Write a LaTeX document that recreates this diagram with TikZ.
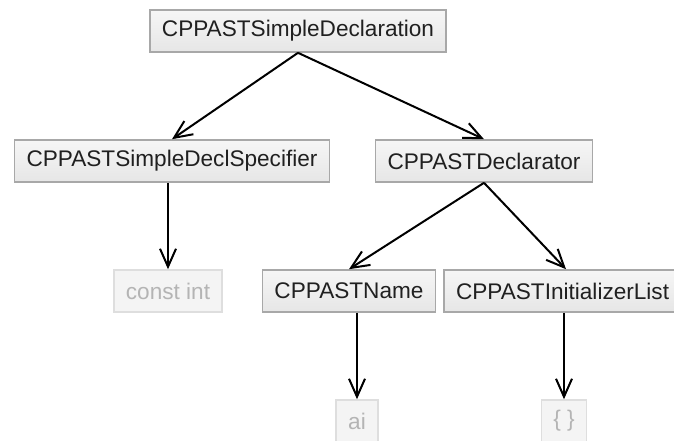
\documentclass[tikz,border=0pt]{standalone}
\usepackage{fontspec}
\setmainfont{Liberation Sans}
\usetikzlibrary{arrows.meta}

\definecolor{boxline}{HTML}{A8A8A8}
\definecolor{boxtop}{HTML}{F6F6F6}
\definecolor{boxbottom}{HTML}{E6E6E6}
\definecolor{leafline}{HTML}{DEDEDE}
\definecolor{leaffill}{HTML}{F4F4F4}
\definecolor{leaftext}{HTML}{B4B4B4}
\definecolor{nodetext}{HTML}{202020}

\begin{document}
\begin{tikzpicture}[
			x=1pt, y=1pt,
			level distance=130pt,
			level 1/.style={sibling distance=312pt},
			level 2/.style={sibling distance=214pt},
			leafedge/.style={edge from parent path={(\tikzchildnode.north |- \tikzparentnode.south) -- (\tikzchildnode.north)}},
			level 3/.style={leafedge},
			astnode/.style={draw=boxline, line width=1.6pt, top color=boxtop, bottom color=boxbottom,
					text=nodetext, font=\fontsize{22.6pt}{27pt}\selectfont,
					minimum height=42pt, inner xsep=12pt, inner ysep=0pt},
			leafnode/.style={astnode, draw=leafline, top color=leaffill, bottom color=leaffill, text=leaftext},
			edge from parent/.style={draw, line width=2pt, -{Straight Barb[length=18pt, width=16pt, line width=2pt]}},
			edge from parent path={(\tikzparentnode.south) -- (\tikzchildnode.north)}
		]
		\useasboundingbox (0,0) rectangle (674,-440);
		\clip (0,0) rectangle (674,-440);
		\node[astnode] (decl) at (298,-31) {CPPASTSimpleDeclaration}
		child[xshift=30pt] {
				node[astnode] (spec) {CPPASTSimpleDeclSpecifier}
				child[xshift=-4pt, leafedge] {node[leafnode] (constint) {const int}}
			}
		child[xshift=30pt] {
				node[astnode] (declarator) {CPPASTDeclarator}
				child[xshift=-28pt] {
						node[astnode] (name) {CPPASTName}
						child[xshift=8pt] {node[leafnode] (ai) {ai}}
					}
				child[xshift=-25pt] {
						node[astnode, text width=220pt, align=left] (initlist) {CPPASTInitializerList}
						child[xshift=-2pt] {node[leafnode] (braces) {\{ \}}}
					}
			};
	\end{tikzpicture}
\end{document}
